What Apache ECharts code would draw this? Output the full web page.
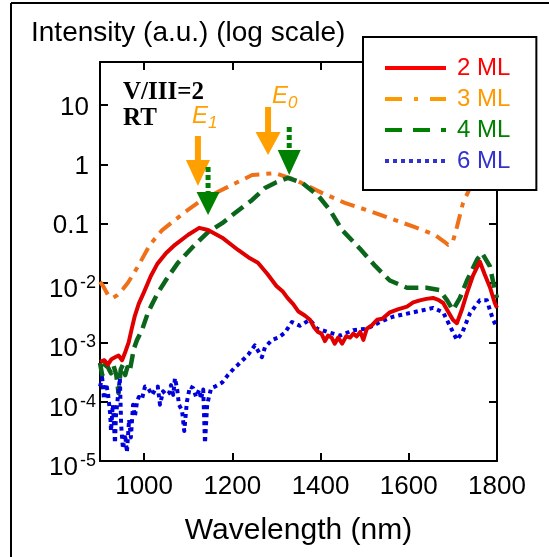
<!DOCTYPE html>
<html>
<head>
<meta charset="utf-8">
<script src="https://cdn.jsdelivr.net/npm/echarts@6/dist/echarts.min.js"></script>
<style>
html, body { margin: 0; padding: 0; background: #fff; }
#chart { width: 549px; height: 557px; }
</style>
</head>
<body>
<div id="chart"></div>
<script>
// Photoluminescence spectra, intensity on a log scale
const seriesNames = ['2 ML', '3 ML', '4 ML', '6 ML'];

const wl2 = [900, 910, 918, 926, 934, 942, 950, 958, 965, 972, 979, 988, 1000, 1015, 1030, 1050, 1070, 1100, 1125, 1145, 1177, 1213, 1240, 1258, 1280, 1300, 1315, 1325, 1338, 1350, 1365, 1376, 1385, 1394, 1402, 1410, 1417, 1425, 1432, 1440, 1449, 1458, 1467, 1474, 1482, 1490, 1497, 1505, 1515, 1528, 1540, 1557, 1575, 1596, 1610, 1625, 1640, 1655, 1667, 1678, 1690, 1700, 1709, 1720, 1732, 1745, 1761, 1772, 1784, 1795, 1800];
const int2 = [4.7e-4, 5.0e-4, 4.2e-4, 5.2e-4, 5.6e-4, 6.0e-4, 5.0e-4, 7.1e-4, 1.0e-3, 1.7e-3, 2.8e-3, 4.5e-3, 7.1e-3, 0.013, 0.021, 0.032, 0.044, 0.065, 0.085, 0.078, 0.058, 0.036, 0.026, 0.022, 0.014, 8.9e-3, 7.1e-3, 5.6e-3, 4.4e-3, 3.3e-3, 2.8e-3, 2.4e-3, 1.8e-3, 1.5e-3, 1.4e-3, 1.05e-3, 1.3e-3, 1.2e-3, 9.5e-4, 1.2e-3, 9.5e-4, 1.26e-3, 1.2e-3, 1.4e-3, 1.26e-3, 1.5e-3, 1.1e-3, 1.7e-3, 1.9e-3, 2.4e-3, 2.5e-3, 3.2e-3, 3.6e-3, 4.0e-3, 4.7e-3, 5.1e-3, 5.4e-3, 5.6e-3, 5.2e-3, 4.6e-3, 3.2e-3, 2.4e-3, 2.1e-3, 3.5e-3, 6.8e-3, 0.013, 0.023, 0.014, 8.5e-3, 4.6e-3, 3.8e-3];

const wl3 = [900, 907, 918, 929, 940, 952, 963, 986, 1013, 1041, 1070, 1093, 1131, 1190, 1245, 1297, 1342, 1403, 1455, 1517, 1569, 1614, 1659, 1680, 1689, 1700, 1709, 1723, 1739, 1750, 1770, 1800];
const int3 = [0.0105, 8.9e-3, 6.3e-3, 5.6e-3, 6.3e-3, 7.9e-3, 0.010, 0.019, 0.044, 0.078, 0.115, 0.158, 0.251, 0.417, 0.66, 0.71, 0.55, 0.33, 0.224, 0.158, 0.115, 0.087, 0.065, 0.050, 0.044, 0.050, 0.087, 0.224, 0.40, 0.89, 2.0, 5.0];

const wl4 = [900, 905, 911, 918, 925, 931, 937, 942, 947, 952, 957, 962, 967, 972, 977, 984, 995, 1009, 1020, 1031, 1054, 1077, 1115, 1145, 1177, 1206, 1245, 1274, 1300, 1326, 1358, 1394, 1421, 1449, 1489, 1525, 1557, 1596, 1640, 1670, 1687, 1700, 1716, 1732, 1755, 1766, 1784, 1795, 1800];
const int4 = [4.5e-4, 2.8e-4, 4.2e-4, 3.8e-4, 3.0e-4, 4.0e-4, 2.8e-4, 1.4e-4, 3.5e-4, 4.2e-4, 2.8e-4, 3.8e-4, 3.2e-4, 5.0e-4, 7.9e-4, 1.1e-3, 1.6e-3, 3.2e-3, 4.7e-3, 6.8e-3, 0.0126, 0.022, 0.044, 0.072, 0.102, 0.151, 0.251, 0.40, 0.50, 0.59, 0.49, 0.30, 0.17, 0.078, 0.038, 0.019, 0.011, 8.3e-3, 8.3e-3, 7.6e-3, 5.1e-3, 3.5e-3, 5.6e-3, 0.011, 0.025, 0.032, 0.019, 7.6e-3, 5.6e-3];

const wl6 = [900, 905, 909, 914, 918, 923, 925, 929, 934, 936, 941, 945, 948, 952, 957, 961, 966, 970, 975, 979, 984, 988, 995, 1002, 1009, 1018, 1025, 1031, 1036, 1043, 1050, 1057, 1061, 1066, 1070, 1075, 1079, 1086, 1091, 1097, 1104, 1111, 1118, 1125, 1129, 1134, 1138, 1143, 1147, 1152, 1161, 1177, 1190, 1206, 1213, 1229, 1236, 1251, 1267, 1274, 1290, 1304, 1319, 1335, 1353, 1376, 1392, 1415, 1444, 1474, 1505, 1535, 1564, 1610, 1655, 1678, 1693, 1709, 1721, 1739, 1761, 1777, 1791, 1800];
const int6 = [1.8e-4, 2.5e-4, 1.1e-4, 2.0e-4, 1.4e-4, 6.3e-5, 3.2e-5, 8.9e-5, 2.0e-5, 5.6e-5, 1.3e-4, 2.5e-4, 4.0e-5, 1.6e-5, 2.8e-5, 1.4e-5, 5.0e-5, 2.5e-5, 8.9e-5, 5.6e-5, 1.0e-4, 1.2e-4, 1.1e-4, 1.8e-4, 1.7e-4, 1.3e-4, 1.6e-4, 1.8e-4, 8.9e-5, 1.5e-4, 1.3e-4, 1.4e-4, 1.9e-4, 1.3e-4, 2.5e-4, 1.6e-4, 8.9e-5, 7.1e-5, 3.2e-5, 1.0e-4, 1.8e-4, 1.7e-4, 1.2e-4, 1.6e-4, 1.1e-4, 1.6e-4, 2.0e-5, 8.9e-5, 1.2e-4, 1.7e-4, 1.8e-4, 2.1e-4, 2.8e-4, 3.8e-4, 4.2e-4, 5.5e-4, 6.2e-4, 8.9e-4, 5.6e-4, 8.3e-4, 1.1e-3, 1.2e-3, 1.45e-3, 2.2e-3, 1.9e-3, 2.4e-3, 1.7e-3, 1.5e-3, 1.3e-3, 1.6e-3, 1.7e-3, 2.2e-3, 2.7e-3, 3.2e-3, 3.8e-3, 3.2e-3, 1.9e-3, 1.1e-3, 1.45e-3, 3.1e-3, 5.1e-3, 5.1e-3, 2.4e-3, 1.8e-3];

// Axis ranges and tick text
const xRange = [900, 1800];
const yRange = [1e-5, 53];
const yPlainText = { '1': '10', '0': '1', '-1': '0.1' };

// Transition markers: [wavelength, intensity at arrow tip]
const e1Orange = [1122, 0.43];
const e0Orange = [1281, 1.44];
const e1Green = [1145, 0.14];
const e0Green = [1329, 0.66];

const FONT = '"Liberation Sans", Arial, Helvetica, sans-serif';
const SERIF = '"Liberation Serif", "Times New Roman", serif';

function pairs(xs, ys) { return xs.map((x, i) => [x, ys[i]]); }

const chart = echarts.init(document.getElementById('chart'), null, { renderer: 'canvas' });

const axisLine = { show: true, lineStyle: { color: '#000', width: 2 } };
const tickIn = { show: true, inside: true, length: 8, lineStyle: { color: '#000', width: 2 } };
const hiddenSymbol = { opacity: 0 };

const option = {
  animation: false,
  backgroundColor: '#fff',
  title: {
    text: 'Intensity (a.u.) (log scale)',
    left: 31, top: 19, padding: 0,
    textStyle: { fontFamily: FONT, fontSize: 28, fontWeight: 'normal', color: '#000' }
  },
  grid: { left: 100, right: 52, top: 62, bottom: 96, containLabel: false, outerBoundsMode: 'none' },
  legend: {
    orient: 'vertical', left: 363, top: 37,
    padding: [19, 26, 17, 20],
    itemWidth: 61, itemHeight: 14, itemGap: 7,
    backgroundColor: '#fff', borderColor: '#000', borderWidth: 2, borderRadius: 0,
    selectedMode: false, z: 10,
    textStyle: { fontFamily: FONT, fontSize: 24, lineHeight: 22, padding: [0, 0, 0, 6] },
    data: [
      { name: seriesNames[0], itemStyle: hiddenSymbol, lineStyle: { color: '#ff0000', width: 4, type: 'solid' }, textStyle: { color: '#ff0000' } },
      { name: seriesNames[1], itemStyle: hiddenSymbol, lineStyle: { color: '#ff9900', width: 4, type: [17, 12, 4, 12] }, textStyle: { color: '#ff9900' } },
      { name: seriesNames[2], itemStyle: hiddenSymbol, lineStyle: { color: '#008000', width: 4, type: [17, 11] }, textStyle: { color: '#008000' } },
      { name: seriesNames[3], itemStyle: hiddenSymbol, lineStyle: { color: '#3333cc', width: 4, type: [4, 4] }, textStyle: { color: '#3333cc' } }
    ]
  },
  xAxis: [
    {
      type: 'value', min: xRange[0], max: xRange[1], position: 'bottom',
      name: 'Wavelength (nm)', nameLocation: 'middle', nameGap: 55,
      nameTextStyle: { fontFamily: FONT, fontSize: 30, color: '#000' },
      axisLine: axisLine, axisTick: tickIn, splitLine: { show: false },
      axisLabel: {
        fontFamily: FONT, fontSize: 26, color: '#000', margin: 13,
        formatter: v => (v % 200 === 0 ? String(v) : '')
      }
    },
    {
      type: 'value', min: xRange[0], max: xRange[1], position: 'top',
      axisLine: axisLine, axisTick: tickIn, splitLine: { show: false },
      axisLabel: { show: false }
    }
  ],
  yAxis: [
    {
      type: 'log', logBase: 10, min: yRange[0], max: yRange[1], position: 'left',
      axisLine: axisLine, axisTick: tickIn, splitLine: { show: false },
      axisLabel: {
        margin: 4, color: '#000', fontFamily: FONT,
        formatter: function (v) {
          const lg = Math.log10(v);
          const e = Math.round(lg);
          if (Math.abs(lg - e) > 1e-6) return '';
          if (yPlainText[String(e)] !== undefined) return '{p|' + yPlainText[String(e)] + '}';
          return '{b|10}{s|' + e + '}';
        },
        rich: {
          p: { fontFamily: FONT, fontSize: 26, lineHeight: 26, color: '#000', padding: [5, 7, 0, 0] },
          b: { fontFamily: FONT, fontSize: 26, lineHeight: 26, color: '#000', padding: [14, 0, 0, 0] },
          s: { fontFamily: FONT, fontSize: 18, lineHeight: 18, color: '#000', padding: [11, 0, 11, 2] }
        }
      }
    },
    {
      type: 'log', logBase: 10, min: yRange[0], max: yRange[1], position: 'right',
      axisLine: axisLine, axisTick: tickIn, splitLine: { show: false },
      axisLabel: { show: false }
    }
  ],
  series: [
    {
      name: seriesNames[0], type: 'line', symbol: 'none', showSymbol: false, z: 3,
      lineStyle: { color: '#e00000', width: 4, type: 'solid', join: 'round' },
      itemStyle: { color: '#ff0000' },
      data: pairs(wl2, int2)
    },
    {
      name: seriesNames[1], type: 'line', symbol: 'none', showSymbol: false, z: 2,
      lineStyle: { color: '#f07018', width: 4, type: [15, 7, 5, 7], join: 'round' },
      itemStyle: { color: '#ff9900' },
      data: pairs(wl3, int3)
    },
    {
      name: seriesNames[2], type: 'line', symbol: 'none', showSymbol: false, z: 2,
      lineStyle: { color: '#0b661c', width: 4.5, type: [14, 7], join: 'round' },
      itemStyle: { color: '#008000' },
      data: pairs(wl4, int4)
    },
    {
      name: seriesNames[3], type: 'line', symbol: 'none', showSymbol: false, z: 2,
      lineStyle: { color: '#0000dd', width: 4, type: [4, 4], join: 'round' },
      itemStyle: { color: '#3333cc' },
      data: pairs(wl6, int6)
    }
  ]
};

chart.setOption(option);

// Arrow markers and text annotations, placed from data coordinates
function px(pt) { return chart.convertToPixel({ xAxisIndex: 0, yAxisIndex: 0 }, pt); }

function solidArrow(tip, length, headLen, shaftW, headW, color) {
  const [x, y] = px(tip);
  const top = y - length, neck = y - headLen;
  return {
    type: 'polygon', z: 5,
    shape: { points: [
      [x - shaftW / 2, top], [x + shaftW / 2, top], [x + shaftW / 2, neck],
      [x + headW / 2, neck], [x, y], [x - headW / 2, neck], [x - shaftW / 2, neck]
    ] },
    style: { fill: color }
  };
}

function dottedArrow(tip, length, headLen, dotW, headW, color) {
  const [x, y] = px(tip);
  const top = y - length, neck = y - headLen;
  return [
    {
      type: 'line', z: 5,
      shape: { x1: x, y1: top, x2: x, y2: neck },
      style: { stroke: color, lineWidth: dotW, lineDash: [5, 3], lineCap: 'butt' }
    },
    {
      type: 'polygon', z: 5,
      shape: { points: [[x - headW / 2, neck], [x + headW / 2, neck], [x, y]] },
      style: { fill: color }
    }
  ];
}

function eLabel(tip, dx, dy, sub) {
  const [x, y] = px(tip);
  return [
    { type: 'text', z: 5, style: { text: 'E', x: x + dx, y: y + dy, fill: '#ffa000', font: 'italic 24px ' + FONT } },
    { type: 'text', z: 5, style: { text: sub, x: x + dx + 16, y: y + dy + 11, fill: '#ffa000', font: 'italic 17px ' + FONT } }
  ];
}

const ORANGE = '#ffa000';
const GREEN = '#008000';

const graphics = [
  // outer frame edges
  { type: 'line', z: 6, shape: { x1: 11, y1: 3, x2: 11, y2: 557 }, style: { stroke: '#000', lineWidth: 2 } },
  { type: 'line', z: 6, shape: { x1: 11, y1: 3, x2: 549, y2: 3 }, style: { stroke: '#000', lineWidth: 2 } },
  { type: 'text', z: 5, style: { text: 'V/III=2', x: 123, y: 80, fill: '#000', font: 'bold 25px ' + SERIF } },
  { type: 'text', z: 5, style: { text: 'RT', x: 123, y: 106, fill: '#000', font: 'bold 25px ' + SERIF } },
  solidArrow(e1Orange, 50, 26, 6, 24, ORANGE),
  solidArrow(e0Orange, 48, 23, 6, 25, ORANGE),
  ...dottedArrow(e1Green, 48, 23, 5, 23, GREEN),
  ...dottedArrow(e0Green, 48, 25, 5, 23, GREEN),
  ...eLabel(e1Orange, -6, -82, '1'),
  ...eLabel(e0Orange, 4, -71, '0')
];

chart.setOption({ graphic: graphics });
</script>
</body>
</html>
